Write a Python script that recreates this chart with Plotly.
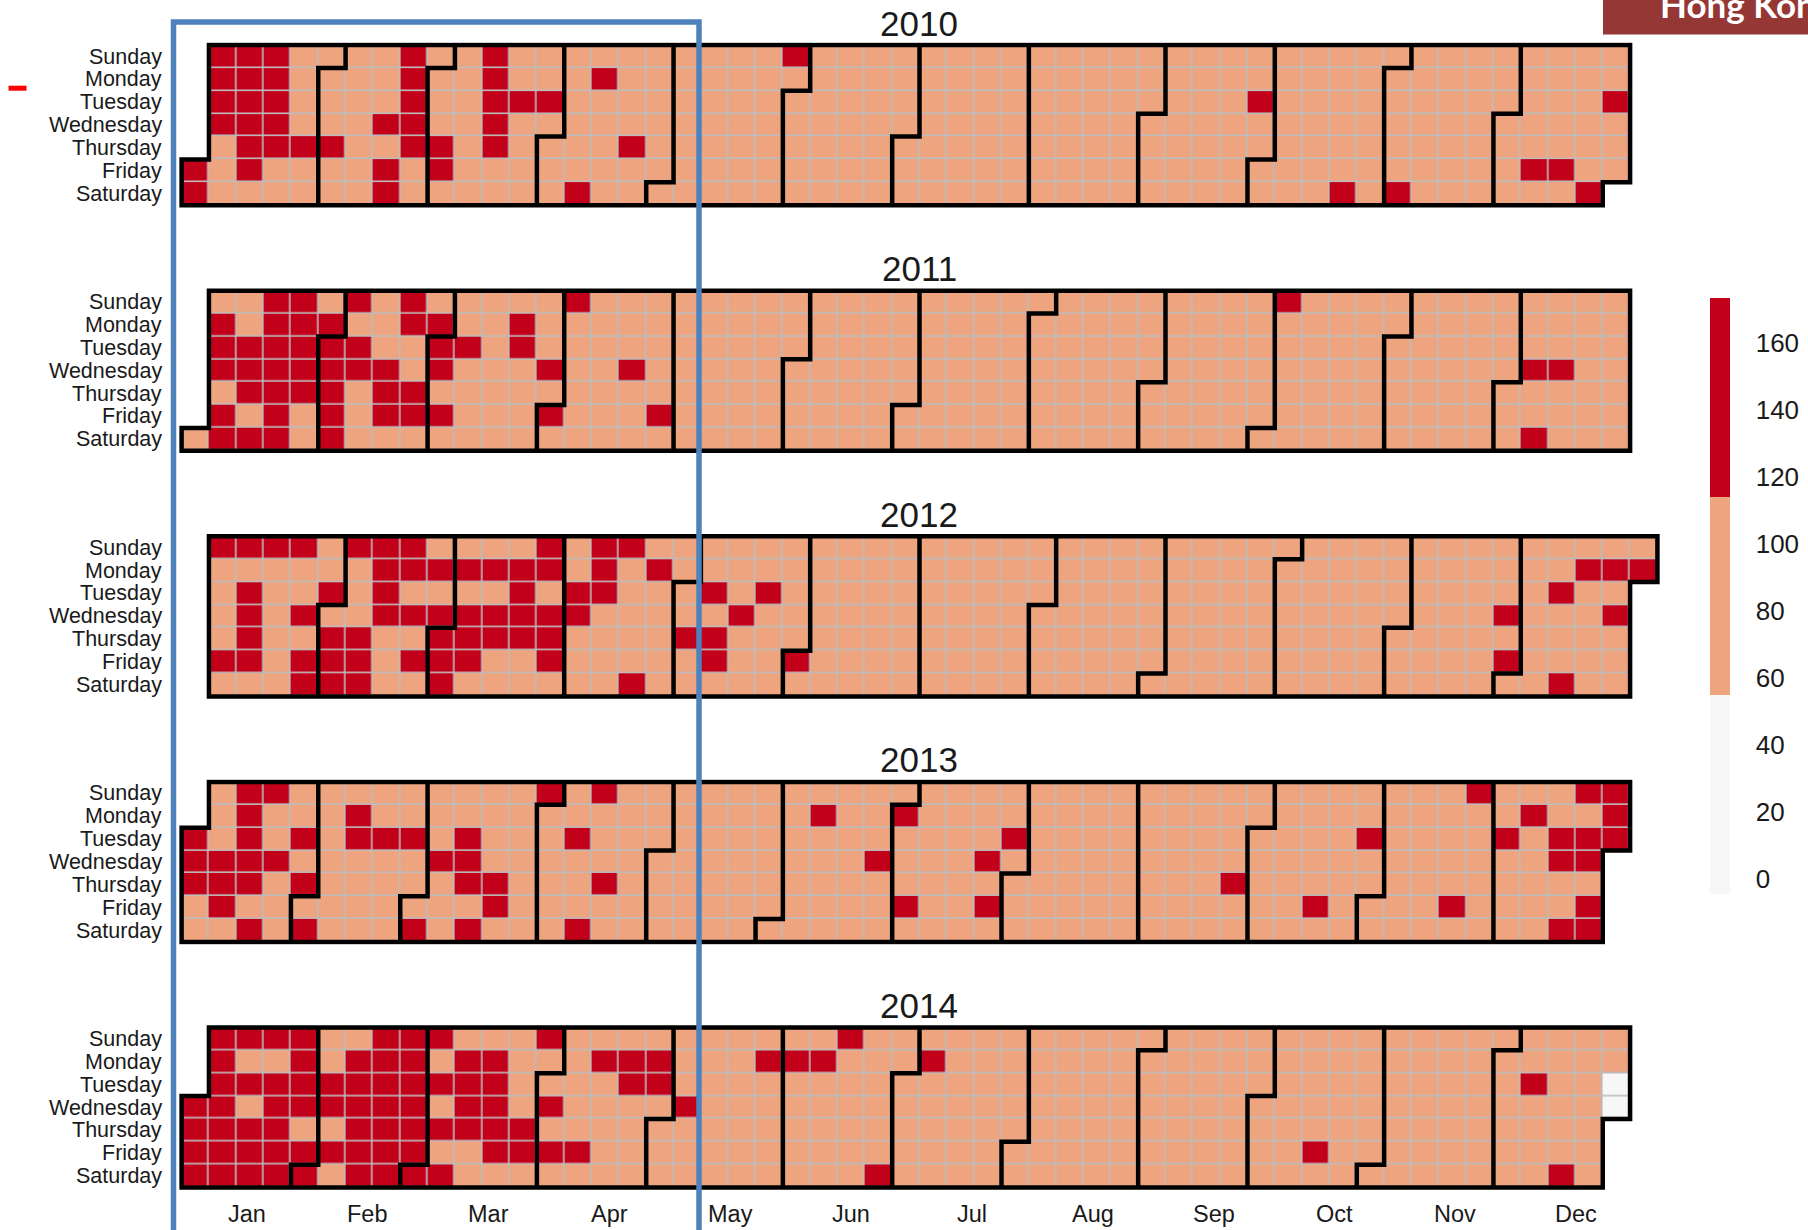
import datetime as dt
import plotly.graph_objects as go

# ---------------- data ----------------
YEARS = [2010, 2011, 2012, 2013, 2014]
DAY_NAMES = ["Sunday", "Monday", "Tuesday", "Wednesday", "Thursday", "Friday", "Saturday"]
MONTH_LABELS = ["Jan", "Feb", "Mar", "Apr", "May", "Jun", "Jul", "Aug", "Sep", "Oct", "Nov", "Dec"]
COLORBAR_TICKS = [0, 20, 40, 60, 80, 100, 120, 140, 160]

# daily level read per cell: L = low bin (<55), M = middle bin (55-114), H = high bin (>114)
LEVEL_VALUES = {"L": 20, "M": 85, "H": 140}

# one string per month, one character per day (spaces only for readability)
LEVELS_2010 = [
    "HHHHHHMMMH HHHHHMHHHH HMMMMMMHMM M",
    "MMMHMMMMMM MMMMMMHMHH HHHHHMMM",
    "MMMHHMMMMM MMMHHHHHMM MMHMMMMMMH M",
    "MMMMMMMMMH MHMMMMMMMM MHMMMMMMMM",
    "MMMMMMMMMM MMMMMMMMMM MMMMMMMMMH M",
    "MMMMMMMMMM MMMMMMMMMM MMMMMMMMMM",
    "MMMMMMMMMM MMMMMMMMMM MMMMMMMMMM M",
    "MMMMMMMMMM MMMMMMMMMM MMMMMMMMMM M",
    "MMMMMMMMMM MMMMMMMMMM MMMMMMMHMM",
    "MMMMMMMMMM MMMMMMMMMM MMHMMMMMMM M",
    "MMMMMHMMMM MMMMMMMMMM MMMMMMMMMM",
    "MMMMMMMMMH MMMMMMHMMM MMMMHMMHMM M",
]
LEVELS_2011 = [
    "MMHHHMHHMM HHHMHHHHHH HHHHHHHMMM H",
    "HHHHHHMHHM MMMMMHHHMH HMMHHMMH",
    "HHMHMMMHMM MMMMMMMMMM HHMMMMMMMH M",
    "HMHMMMMMMM MMMMMMMMMH MMMMMMMMHM",
    "MMMMMMMMMM MMMMMMMMMM MMMMMMMMMM M",
    "MMMMMMMMMM MMMMMMMMMM MMMMMMMMMM",
    "MMMMMMMMMM MMMMMMMMMM MMMMMMMMMM M",
    "MMMMMMMMMM MMMMMMMMMM MMMMMMMMMM M",
    "MMMMMMMMMM MMMMMMMMMM MMMMMMMMMM",
    "MHMMMMMMMM MMMMMMMMMM MMMMMMMMMM M",
    "MMMMMMMMMM MMMMMMMMMM MMMMMMMMMM",
    "MMMMMMHMMH MMMHMMMMMM MMMMMMMMMM M",
]
LEVELS_2012 = [
    "HMMMMHMHMH HHHMHMMMMM MHMMHMHHMM H",
    "MHHHHMMMHH HHHHHMMMHH MHMHMMHMH",
    "HHHMHMHHHM MHMHHMMMHH HHMMHHMHHH M",
    "MMHHMMMHHH MMMMHMMMMM HMHMMMMMMM",
    "MMHMMMMHMH HMMMMHMMMM MHMMMMMMMM M",
    "HMMMMMMMMM MMMMMMMMMM MMMMMMMMMM",
    "MMMMMMMMMM MMMMMMMMMM MMMMMMMMMM M",
    "MMMMMMMMMM MMMMMMMMMM MMMMMMMMMM M",
    "MMMMMMMMMM MMMMMMMMMM MMMMMMMMMM",
    "MMMMMMMMMM MMMMMMMMMM MMMMMMMMMM M",
    "MMMMMMMMMM MMMMMMMMMM MMMMMMMHMH",
    "MMMMMMMMMM HMMMHMHMMM MMMHMHMMMM H",
]
LEVELS_2013 = [
    "HHHMMMMMHH HMHHHHHMHH MMHMMMMMHM H",
    "MHMMMMMMMM HHMMMMMMHM MMMMMHMM",
    "MHMMMHMMMM MHHHMHMMMM HHMMMMMMMM H",
    "MMMMMMMMHM MMHHMMMHMM MMMMMMMMMM",
    "MMMMMMMMMM MMMMMMMMMM MMMMMMMMMM M",
    "MMMMMMMMMH MMMMMMMMMM MMMMMHMMMM",
    "HMMMHMMMMM MMMMMMMMMM MMMHMHMMMH M",
    "MMMMMMMMMM MMMMMMMMMM MMMMMMMMMM M",
    "MMMMMMMMMM MMMMMMMMMM MMMMMHMMMM",
    "MMMMMMMMMM MMMMMMMHMM MMMMMMMMHM M",
    "MMMMMMMMMM MMMMMMMMMM MHMHMMMMMM",
    "MMHMMMMMHM MMMMMMHHMM HHMHHMHHHH H",
]
LEVELS_2014 = [
    "HHHHHHHHHH HHMHMHHHHM HHHHHHHHHM H",
    "HMMHHMHMMH HHHHHHHHHH HHHHHHHH",
    "HHMHMHMHMH HHHMMMHHHH HMMMMMHHMH M",
    "MHMHMMMMMM HMMHMMMMMM HHMMMMMHHM",
    "MMMMMMHMMM MMMMMMMMMM MMMMMHMMMM M",
    "MHMMMMMMHM MMMMHMMMMM MMMMMMMHMM",
    "MMMMMMHMMM MMMMMMMMMM MMMMMMMMMM M",
    "MMMMMMMMMM MMMMMMMMMM MMMMMMMMMM M",
    "MMMMMMMMMM MMMMMMMMMM MMMMMMMMMM",
    "MMMMMMMMMM MMMMMMHMMM MMMMMMMMMM M",
    "MMMMMMMMMM MMMMMMMMMM MMMMMMMMMM",
    "MMMMMMMMHM MMMMMMMMMH MMMMMMMMML L",
]
LEVELS_BY_YEAR = {2010: LEVELS_2010, 2011: LEVELS_2011, 2012: LEVELS_2012,
                  2013: LEVELS_2013, 2014: LEVELS_2014}

# ---------------- styling ----------------
COLOR_LOW = "#F7F7F7"
COLOR_MID = "#EDA47F"
COLOR_HIGH = "#C3001A"
GRID_GRAY = "#BDBDBD"
CMIN, CMAX = -4.5, 173.5
FONT = "Liberation Sans, Arial, Helvetica, sans-serif"
TEXT_COLOR = "#1a1a1a"

W, H = 1808, 1230
X_LEFT_PX = 181.6      # pixel of the left edge of week column 1
COL_W = 27.33          # pixel width of a week column
ROW_H = 22.87          # pixel height of a weekday row
PANEL_TOP_PX = [45.1 + 245.6 * k for k in range(5)]
X_RANGE = [0.3, 54.7]
Y_RANGE = [6.62, -0.62]
MONTH_TICK_POS = [2.9 + 4.42 * i for i in range(12)]


def x_to_px(v):
    return X_LEFT_PX + (v - 0.5) * COL_W


def y_to_px(k, v):
    return PANEL_TOP_PX[k] + (v + 0.5) * ROW_H


fig = go.Figure()
axes = {}
annotations = []

for k, year in enumerate(YEARS):
    xa = "x" if k == 0 else f"x{k + 1}"
    ya = "y" if k == 0 else f"y{k + 1}"
    months = [s.replace(" ", "") for s in LEVELS_BY_YEAR[year]]
    for m, s in enumerate(months):
        nxt = dt.date(year + (m == 11), (m + 1) % 12 + 1, 1)
        assert len(s) == (nxt - dt.timedelta(days=1)).day, (year, m + 1, len(s))

    z = [[None] * 54 for _ in range(7)]
    bg = [[None] * 54 for _ in range(7)]
    month_last = {}
    first = None
    d = dt.date(year, 1, 1)
    while d.year == year:
        col = int(d.strftime("%U")) + 1
        row = (d.weekday() + 1) % 7
        z[row][col - 1] = LEVEL_VALUES[months[d.month - 1][d.day - 1]]
        bg[row][col - 1] = 1
        if first is None:
            first = (col, row)
        month_last[d.month] = (col, row)
        d += dt.timedelta(days=1)

    cols = list(range(1, 55))
    rows = list(range(7))
    fig.add_trace(go.Heatmap(x=cols, y=rows, z=bg, zmin=0, zmax=1,
                             colorscale=[[0, GRID_GRAY], [1, GRID_GRAY]],
                             showscale=False, hoverinfo="skip", xaxis=xa, yaxis=ya))
    fig.add_trace(go.Heatmap(x=cols, y=rows, z=z, coloraxis="coloraxis",
                             xgap=1.6, ygap=1.6, xaxis=xa, yaxis=ya,
                             hovertemplate="week %{x}, day %{y}: %{z}<extra></extra>"))

    # outline of the year and month boundaries
    c0, r0 = first
    c1, r1 = month_last[12]
    mid = (c0 + c1) / 2.0
    pts = [(mid, 6.5), (c0 - 0.5, 6.5)]
    if r0 > 0:
        pts += [(c0 - 0.5, r0 - 0.5), (c0 + 0.5, r0 - 0.5), (c0 + 0.5, -0.5)]
    else:
        pts += [(c0 - 0.5, -0.5)]
    if r1 < 6:
        pts += [(c1 + 0.5, -0.5), (c1 + 0.5, r1 + 0.5), (c1 - 0.5, r1 + 0.5), (c1 - 0.5, 6.5)]
    else:
        pts += [(c1 + 0.5, -0.5), (c1 + 0.5, 6.5)]
    pts += [(mid, 6.5)]
    lx = [p[0] for p in pts] + [None]
    ly = [p[1] for p in pts] + [None]
    for m in range(1, 12):
        c, r = month_last[m]
        if r < 6:
            seg = [(c + 0.5, -0.5), (c + 0.5, r + 0.5), (c - 0.5, r + 0.5), (c - 0.5, 6.5)]
        else:
            seg = [(c + 0.5, -0.5), (c + 0.5, 6.5)]
        lx += [p[0] for p in seg] + [None]
        ly += [p[1] for p in seg] + [None]
    fig.add_trace(go.Scatter(x=lx, y=ly, mode="lines",
                             line=dict(color="black", width=4.5),
                             hoverinfo="skip", showlegend=False, xaxis=xa, yaxis=ya))

    xkey = "xaxis" if k == 0 else f"xaxis{k + 1}"
    ykey = "yaxis" if k == 0 else f"yaxis{k + 1}"
    axes[xkey] = dict(domain=[x_to_px(X_RANGE[0]) / W, x_to_px(X_RANGE[1]) / W],
                      range=X_RANGE, anchor=ya, showgrid=False, zeroline=False,
                      showticklabels=False, ticks="", showline=False, fixedrange=True)
    axes[ykey] = dict(domain=[1 - y_to_px(k, Y_RANGE[0]) / H, 1 - y_to_px(k, Y_RANGE[1]) / H],
                      range=Y_RANGE, anchor=xa, showgrid=False, zeroline=False,
                      showticklabels=False, ticks="", showline=False, fixedrange=True)

    # year title
    annotations.append(dict(text=str(year), xref="paper", yref="paper",
                            x=919.5 / W, y=1 - (PANEL_TOP_PX[k] - 22) / H,
                            xanchor="center", yanchor="middle", showarrow=False,
                            font=dict(family=FONT, size=35, color=TEXT_COLOR)))
    # weekday labels
    for r, name in enumerate(DAY_NAMES):
        annotations.append(dict(text=name, xref="paper", yref=ya, x=164 / W, y=r,
                                xanchor="right", yanchor="middle", showarrow=False,
                                font=dict(family=FONT, size=21.5, color=TEXT_COLOR)))

# month labels under the last panel
for pos, lab in zip(MONTH_TICK_POS, MONTH_LABELS):
    annotations.append(dict(text=lab, xref="x5", yref="paper", x=pos, y=1 - 1214 / H,
                            xanchor="center", yanchor="middle", showarrow=False,
                            font=dict(family=FONT, size=23.5, color=TEXT_COLOR)))

# slide header text (top right, clipped by the page edge as in the original slide)
annotations.append(dict(text="<b>Hong Kong</b>", xref="paper", yref="paper",
                        x=1658 / W, y=1 - 4 / H, xanchor="left", yanchor="middle",
                        showarrow=False, font=dict(family="Lato, Open Sans, sans-serif",
                                                   size=35, color="white")))

shapes = [
    dict(type="rect", xref="paper", yref="paper", x0=1603 / W, x1=1.02,
         y0=1 - 34.6 / H, y1=1.02, fillcolor="#953735", line=dict(width=0), layer="below"),
    dict(type="rect", xref="paper", yref="paper", x0=173.5 / W, x1=699 / W,
         y0=1 - 1245 / H, y1=1 - 22 / H, fillcolor="rgba(0,0,0,0)",
         line=dict(color="#4F81BD", width=5.5), layer="above"),
    dict(type="rect", xref="paper", yref="paper", x0=8.5 / W, x1=26.5 / W,
         y0=1 - 90.7 / H, y1=1 - 85.7 / H, fillcolor="#FF0000", line=dict(width=0)),
]

fig.update_layout(
    width=W, height=H, margin=dict(l=0, r=0, t=0, b=0, pad=0),
    paper_bgcolor="white", plot_bgcolor="rgba(0,0,0,0)",
    showlegend=False, annotations=annotations, shapes=shapes,
    coloraxis=dict(
        cmin=CMIN, cmax=CMAX,
        colorscale=[[0, COLOR_LOW], [1 / 3, COLOR_LOW], [1 / 3, COLOR_MID],
                    [2 / 3, COLOR_MID], [2 / 3, COLOR_HIGH], [1, COLOR_HIGH]],
        colorbar=dict(thickness=20, thicknessmode="pixels", len=596, lenmode="pixels",
                      x=1710 / W, xanchor="left", y=1 - 595.5 / H, yanchor="middle",
                      xpad=0, ypad=0, outlinewidth=0, tickvals=COLORBAR_TICKS,
                      ticks="outside", ticklen=21, tickcolor="rgba(0,0,0,0)",
                      tickfont=dict(family=FONT, size=26, color=TEXT_COLOR)),
    ),
    **axes,
)

# the page's default 8px body margin would shift the figure; remove it
fig.write_html("out.html",
               config={"displayModeBar": False},
               post_script="document.body.style.margin='0';document.body.style.overflow='hidden';")
